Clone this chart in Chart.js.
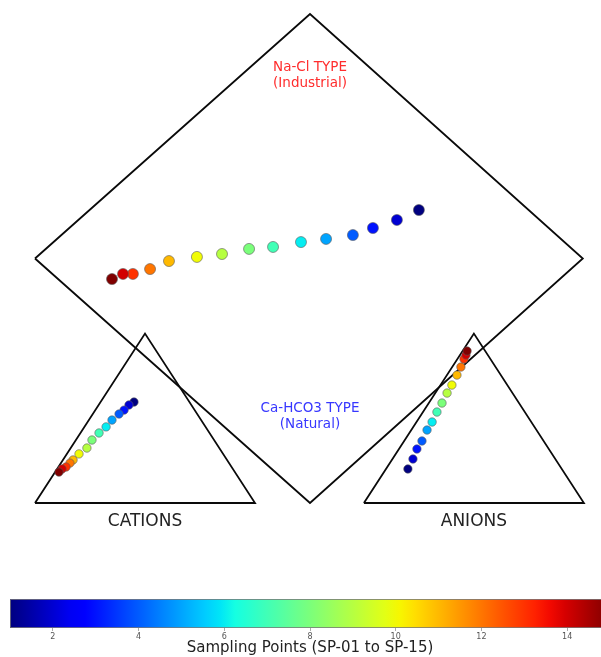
<!DOCTYPE html>
<html>
<head>
<meta charset="utf-8">
<script src="https://cdn.jsdelivr.net/npm/chart.js@4.4.1/dist/chart.umd.min.js"></script>
<style>
  html, body { margin:0; padding:0; background:#fff; overflow:hidden; width:601px; height:657px; }
  #wrap { position:relative; width:601px; height:657px; overflow:hidden; }
  #piper { position:absolute; left:0; top:0; }
  #cbar { position:absolute; left:0; top:590px; }
</style>
</head>
<body>
<div id="wrap">
  <canvas id="piper" width="601" height="590"></canvas>
  <canvas id="cbar" width="620" height="67"></canvas>
</div>
<script>
// ---------------- DATA ----------------
const samplingPoints = ['SP-01','SP-02','SP-03','SP-04','SP-05','SP-06','SP-07','SP-08','SP-09','SP-10','SP-11','SP-12','SP-13','SP-14','SP-15'];
const samplingIndex  = [1,2,3,4,5,6,7,8,9,10,11,12,13,14,15];

// Diamond (central field) projected positions
const diamondX = [174.5,164.5,153.6,144.5,132.3,120.9,108.2,97.3,85.0,73.6,60.9,52.3,44.5,40.0,35.0];
const diamondY = [149.8,144.7,140.6,137.0,135.0,133.4,130.9,129.9,127.3,125.8,123.7,119.6,117.1,117.1,114.5];

// Cation triangle projected positions
const cationX = [45.0,42.7,40.5,38.2,35.0,32.3,29.1,25.9,23.6,20.0,17.3,15.9,14.1,12.3,10.9];
const cationY = [51.6,50.1,47.5,45.5,42.4,38.9,35.8,32.2,28.1,25.1,22.0,20.4,18.4,17.4,15.8];

// Anion triangle projected positions
const anionX = [169.5,171.8,173.6,175.9,178.2,180.5,182.7,185.0,187.3,189.5,191.8,193.6,195.0,195.9,196.4];
const anionY = [17.4,22.5,27.6,31.7,37.3,41.4,46.5,51.1,56.2,60.3,65.4,69.5,73.6,75.7,77.7];

// Diagram frame (data units)
const cationTriangle = [[0,0],[100,0],[50,86.6],[0,0]];
const anionTriangle  = [[149.5,0],[249.5,0],[199.5,86.6],[149.5,0]];
const diamondFrame   = [[0,125],[125,250],[249,125],[125,0],[0,125]];

// Colour bar
const colorbarMin = 1, colorbarMax = 15;
const colorbarTicks = [2,4,6,8,10,12,14];

// ---------------- STYLE HELPERS ----------------
const jetSeg = {
  r: [[0,0],[0.35,0],[0.66,1],[0.89,1],[1,0.5]],
  g: [[0,0],[0.125,0],[0.375,1],[0.64,1],[0.91,0],[1,0]],
  b: [[0,0.5],[0.11,1],[0.34,1],[0.65,0],[1,0]]
};
function interp(seg, t){
  for (let i=0;i<seg.length-1;i++){
    const [x0,y0]=seg[i],[x1,y1]=seg[i+1];
    if (t>=x0 && t<=x1) return y0+(y1-y0)*(t-x0)/(x1-x0);
  }
  return seg[seg.length-1][1];
}
function jet(t){
  t=Math.max(0,Math.min(1,t));
  const c=k=>Math.round(255*interp(jetSeg[k],t));
  return `rgb(${c('r')},${c('g')},${c('b')})`;
}
const pointColors = samplingIndex.map(v => jet((v-colorbarMin)/(colorbarMax-colorbarMin)));

const toXY = (xs,ys) => xs.map((x,i)=>({x, y:ys[i]}));
const toPts = arr => arr.map(([x,y])=>({x,y}));

// pixel mapping settings for the frame
const PX_PER_X = 2.2, PX_PER_Y = 1.956, ORIGIN_PX = 35, BASE_PX = 503;
const W = 601, H = 590;
const FONT = '"DejaVu Sans", sans-serif';

const frameDs = (pts) => ({
  type:'line', data: toPts(pts), showLine:true, borderColor:'#0a0a0a', borderWidth:1.8,
  pointRadius:0, tension:0, fill:false, order:10, clip:false
});
const ptsDs = (xs,ys,r) => ({
  type:'scatter', data: toXY(xs,ys), pointRadius:r, pointHoverRadius:r,
  pointBackgroundColor: pointColors, pointBorderColor:'rgba(90,90,90,0.75)', pointBorderWidth:0.8,
  order:1, clip:false
});

const labels = [
  {text:'Na-Cl TYPE',   x:125, y:222.9, color:'rgb(255,45,45)', size:13.5},
  {text:'(Industrial)', x:125, y:214.6, color:'rgb(255,45,45)', size:13.5},
  {text:'Ca-HCO3 TYPE', x:125, y:48.1,  color:'rgb(55,55,255)', size:13.5},
  {text:'(Natural)',    x:125, y:39.9,  color:'rgb(55,55,255)', size:13.5},
  {text:'CATIONS',      x:50,  y:-9.7,  color:'#222', size:17},
  {text:'ANIONS',       x:199.5, y:-9.7,  color:'#222', size:17}
];

const textPlugin = {
  id:'piperText',
  afterDraw(chart){
    const {ctx, scales:{x,y}} = chart;
    ctx.save();
    ctx.textAlign='center'; ctx.textBaseline='middle';
    labels.forEach(l=>{
      ctx.fillStyle=l.color;
      ctx.font=`${l.size}px ${FONT}`;
      ctx.fillText(l.text, x.getPixelForValue(l.x), y.getPixelForValue(l.y));
    });
    ctx.restore();
  }
};

new Chart(document.getElementById('piper'), {
  type:'scatter',
  data:{ datasets:[
    ptsDs(diamondX, diamondY, 5.5),
    ptsDs(cationX, cationY, 4.2),
    ptsDs(anionX, anionY, 4.2),
    frameDs(diamondFrame),
    frameDs(cationTriangle),
    frameDs(anionTriangle)
  ]},
  options:{
    responsive:false, animation:false,
    layout:{padding:0, autoPadding:false},
    plugins:{legend:{display:false}, tooltip:{enabled:false}},
    scales:{
      x:{type:'linear', display:false, min:-ORIGIN_PX/PX_PER_X, max:(W-ORIGIN_PX)/PX_PER_X},
      y:{type:'linear', display:false, min:-(H-BASE_PX)/PX_PER_Y, max:BASE_PX/PX_PER_Y}
    }
  },
  plugins:[textPlugin]
});

// ---------------- COLOUR BAR ----------------
const cbarPlugin = {
  id:'cbarGradient',
  beforeDatasetsDraw(chart){
    const {ctx, chartArea:a, scales:{x}} = chart;
    const x1 = x.getPixelForValue(colorbarMin), x2 = x.getPixelForValue(colorbarMax);
    const g = ctx.createLinearGradient(x1,0,x2,0);
    for (let i=0;i<=40;i++){ g.addColorStop(i/40, jet(i/40)); }
    ctx.save();
    ctx.fillStyle=g;
    ctx.fillRect(x1, a.top, x2-x1, a.bottom-a.top);
    ctx.strokeStyle='rgba(120,120,120,0.8)'; ctx.lineWidth=1;
    ctx.strokeRect(x1+0.5, a.top+0.5, x2-x1-1, a.bottom-a.top-1);
    ctx.restore();
  }
};

new Chart(document.getElementById('cbar'), {
  type:'scatter',
  data:{datasets:[]},
  options:{
    responsive:false, animation:false,
    layout:{padding:{left:10, right:10, top:9, bottom:0}, autoPadding:false},
    plugins:{legend:{display:false}, tooltip:{enabled:false}},
    scales:{
      x:{type:'linear', position:'bottom', min:colorbarMin, max:colorbarMax,
         afterBuildTicks(axis){ axis.ticks = colorbarTicks.map(v=>({value:v})); },
         ticks:{font:{size:8, family:FONT}, color:'#555', padding:1, maxRotation:0, autoSkip:false},
         grid:{display:true, drawOnChartArea:false, drawTicks:true, tickLength:3, color:'#aaa'},
         border:{display:false},
         title:{display:true, text:'Sampling Points (SP-01 to SP-15)', color:'#222',
                font:{size:15, family:FONT}, padding:{top:0,bottom:0}}
      },
      y:{display:false, min:0, max:1}
    }
  },
  plugins:[cbarPlugin]
});
</script>
</body>
</html>
